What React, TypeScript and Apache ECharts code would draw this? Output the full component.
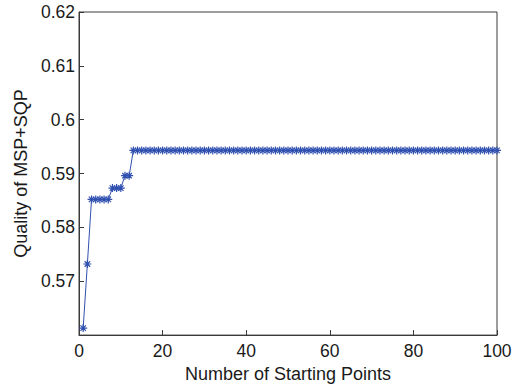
import React, { useEffect, useRef } from "react";
import * as echarts from "echarts";

const xStart = 1;
const stepStarts = [1, 2, 3, 8, 11, 13];
const stepValues = [0.5613, 0.5732, 0.5852, 0.5873, 0.5896, 0.5943];
const xEnd = 100;
const yTicks = [0.57, 0.58, 0.59, 0.6, 0.61, 0.62];
const xTicks = [0, 20, 40, 60, 80, 100];

function buildData(): [number, number][] {
  const out: [number, number][] = [];
  for (let x = xStart; x <= xEnd; x++) {
    let v = stepValues[0];
    for (let i = 0; i < stepStarts.length; i++) if (x >= stepStarts[i]) v = stepValues[i];
    out.push([x, v]);
  }
  return out;
}

const asterisk =
  "path://M5 0 L5 10 M0 5 L10 5 M1.6 1.6 L8.4 8.4 M8.4 1.6 L1.6 8.4";

export default function App() {
  const ref = useRef<HTMLDivElement>(null);
  useEffect(() => {
    if (!ref.current) return;
    const chart = echarts.init(ref.current, undefined, { renderer: "svg" });
    const font = "Liberation Sans, Arial, Helvetica, sans-serif";
    const lineColor = "#3a3a3a";
    chart.setOption({
      animation: false,
      backgroundColor: "#ffffff",
      grid: { left: 79, right: 21, top: 12, bottom: 49, show: true, borderColor: lineColor, borderWidth: 1 },
      xAxis: {
        type: "value",
        min: 0,
        max: 100,
        interval: 20,
        name: "Number of Starting Points",
        nameLocation: "middle",
        nameGap: 26,
        nameTextStyle: { fontFamily: font, fontSize: 18, color: "#1a1a1a" },
        axisLine: { show: true, lineStyle: { color: lineColor } },
        axisTick: { show: true, inside: true, length: 5, lineStyle: { color: lineColor } },
        axisLabel: { fontFamily: font, fontSize: 17.5, color: "#1a1a1a", margin: 7,
          formatter: (v: number) => (xTicks.includes(v) ? String(v) : "") },
        splitLine: { show: false },
      },
      yAxis: {
        type: "value",
        min: 0.56,
        max: 0.62,
        interval: 0.01,
        name: "Quality of MSP+SQP",
        nameLocation: "middle",
        nameGap: 48,
        nameTextStyle: { fontFamily: font, fontSize: 18, color: "#1a1a1a" },
        axisLine: { show: true, lineStyle: { color: lineColor } },
        axisTick: { show: true, inside: true, length: 5, lineStyle: { color: lineColor } },
        axisLabel: {
          fontFamily: font, fontSize: 17.5, color: "#1a1a1a", margin: 4,
          formatter: (v: number) => {
            const r = Math.round(v * 100) / 100;
            return yTicks.some((t) => Math.abs(t - r) < 1e-9) ? String(r) : "";
          },
        },
        splitLine: { show: false },
      },
      series: [
        {
          type: "line",
          data: buildData(),
          symbol: asterisk,
          symbolSize: 8,
          showAllSymbol: true,
          lineStyle: { color: "#3050b0", width: 1 },
          itemStyle: { color: "rgba(0,0,0,0)", borderColor: "#3050b0", borderWidth: 1.2 },
        },
      ],
    });
    return () => chart.dispose();
  }, []);
  return <div ref={ref} style={{ width: 518, height: 388, position: "absolute", left: 0, top: 0 }} />;
}
